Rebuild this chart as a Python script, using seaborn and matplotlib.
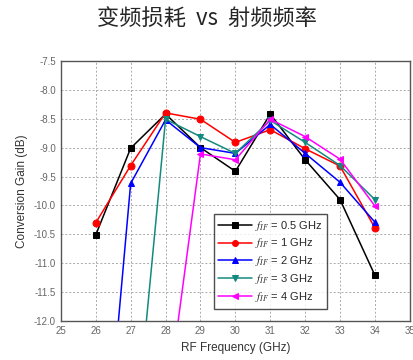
import seaborn as sns
import matplotlib.pyplot as plt
import matplotlib.ticker as mticker
import pandas as pd

freq = [26, 27, 28, 29, 30, 31, 32, 33, 34]

gain_05 = [-10.51, -9.01, -8.42, -9.0, -9.41, -8.42, -9.21, -9.9, -11.21]
gain_1 = [-10.3, -9.31, -8.4, -8.51, -8.91, -8.69, -9.02, -9.32, -10.39]
gain_2 = [-16.4, -9.62, -8.52, -9.0, -9.1, -8.6, -9.1, -9.6, -10.29]
freq_3 = [27, 28, 29, 30, 31, 32, 33, 34]
gain_3 = [-14.86, -8.51, -8.81, -9.1, -8.53, -8.91, -9.31, -9.9]
freq_4 = [28, 29, 30, 31, 32, 33, 34]
gain_4 = [-13.63, -9.11, -9.21, -8.51, -8.81, -9.2, -10.01]

labels = ["$f_{IF}$ = 0.5 GHz", "$f_{IF}$ = 1 GHz", "$f_{IF}$ = 2 GHz",
          "$f_{IF}$ = 3 GHz", "$f_{IF}$ = 4 GHz"]

sns.set_style("white")
plt.rcParams["font.family"] = ["Liberation Sans", "DejaVu Sans"]
plt.rcParams["mathtext.fontset"] = "stix"

fig = plt.figure(figsize=(4.14, 3.6), dpi=100)
ax = fig.add_axes([0.147, 0.108, 0.843, 0.723])

series = [
    (freq, gain_05, "black", "s"),
    (freq, gain_1, "#ff0000", "o"),
    (freq, gain_2, "#0000ff", "^"),
    (freq_3, gain_3, "#138a80", "v"),
    (freq_4, gain_4, "#ff00ff", "<"),
]
for (fx, fy, c, m), lab in zip(series, labels):
    df = pd.DataFrame({"f": fx, "g": fy})
    sns.lineplot(data=df, x="f", y="g", color=c, marker=m, markersize=5,
                 markeredgecolor=c, linewidth=1.1, label=lab, ax=ax)

ax.set_xlim(25, 35)
ax.set_ylim(-12, -7.5)
ax.xaxis.set_major_locator(mticker.MultipleLocator(1))
ax.xaxis.set_minor_locator(mticker.MultipleLocator(0.5))
ax.yaxis.set_major_locator(mticker.MultipleLocator(0.5))
ax.yaxis.set_minor_locator(mticker.MultipleLocator(0.25))
ax.yaxis.set_major_formatter(mticker.FormatStrFormatter("%.1f"))
ax.tick_params(which="both", direction="in", colors="#666666", labelsize=7)
ax.tick_params(which="major", length=4)
ax.tick_params(which="minor", length=2)
ax.grid(True, which="major", linestyle=(0, (2, 2)), color="#aaaaaa", linewidth=0.7)
for s in ax.spines.values():
    s.set_color("#555555")
    s.set_linewidth(1.0)

ax.set_xlabel("RF Frequency (GHz)", fontsize=8.5, color="#333333")
ax.set_ylabel("Conversion Gain (dB)", fontsize=8.5, color="#333333")

leg = ax.legend(loc="lower left", bbox_to_anchor=(0.423, 0.027), fontsize=8,
                frameon=True, fancybox=False, edgecolor="#222222",
                handlelength=3.0, labelspacing=0.35, borderpad=0.4,
                handletextpad=0.3, markerscale=0.85)
leg.get_frame().set_linewidth(1.0)

fig.text(0.5, 0.945, "变频损耗  vs  射频频率", ha="center", va="center", fontsize=16,
         family=["Noto Sans CJK SC", "DejaVu Sans"])

fig.savefig("out.png", dpi=100)
